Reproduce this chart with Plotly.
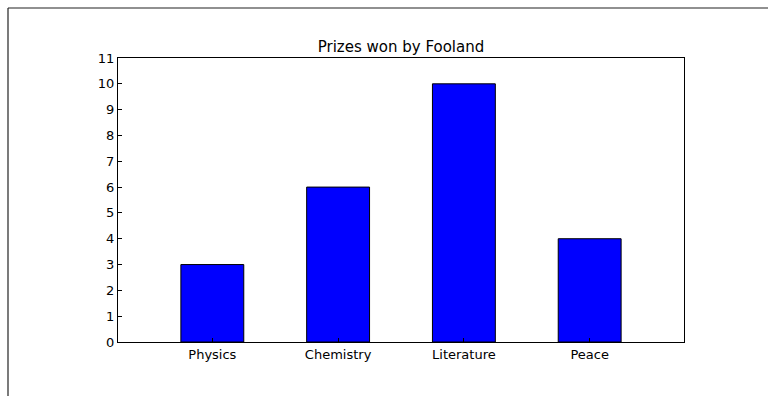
import plotly.graph_objects as go

# Prize counts per category
categories = ["Physics", "Chemistry", "Literature", "Peace"]
prizes = [3, 6, 10, 4]
y_ticks = list(range(0, 12))

W, H = 768, 396
L, R, T, B = 118, 84, 58, 54
plot_w = W - L - R
plot_h = H - T - B

fig = go.Figure(
    go.Bar(
        x=list(range(len(categories))),
        y=prizes,
        width=0.5,
        marker=dict(color="#0000ff", line=dict(color="black", width=1)),
        hoverinfo="x+y",
    )
)

# outer figure frame (top and left edges visible)
fx = (8 - L) / plot_w
fy = 1 + (T - 8) / plot_h
fig.add_shape(type="line", xref="paper", yref="paper", x0=fx, x1=fx, y0=-2, y1=fy,
              line=dict(color="#222222", width=1.2))
fig.add_shape(type="line", xref="paper", yref="paper", x0=fx, x1=3, y0=fy, y1=fy,
              line=dict(color="#222222", width=1.2))

fig.update_layout(
    width=W,
    height=H,
    margin=dict(l=L, r=R, t=T, b=B),
    paper_bgcolor="white",
    plot_bgcolor="white",
    font=dict(family="DejaVu Sans", size=13, color="black"),
    showlegend=False,
    title=dict(
        text="Prizes won by Fooland",
        x=(L + plot_w / 2) / W,
        xanchor="center",
        y=1 - 47 / H,
        yanchor="middle",
        font=dict(size=15, color="black"),
    ),
    xaxis=dict(
        range=[-0.75, 3.75],
        tickmode="array",
        tickvals=list(range(len(categories))),
        ticktext=categories,
        ticks="inside",
        ticklen=4,
        tickcolor="black",
        showline=True,
        linecolor="black",
        linewidth=1,
        mirror=True,
        showgrid=False,
        zeroline=False,
        fixedrange=True,
    ),
    yaxis=dict(
        range=[0, 11],
        tickmode="array",
        tickvals=y_ticks,
        ticktext=[str(v) for v in y_ticks],
        ticks="inside",
        ticklen=4,
        tickcolor="black",
        showline=True,
        linecolor="black",
        linewidth=1,
        mirror=True,
        showgrid=False,
        zeroline=False,
        fixedrange=True,
    ),
)

fig.write_html("out.html")
